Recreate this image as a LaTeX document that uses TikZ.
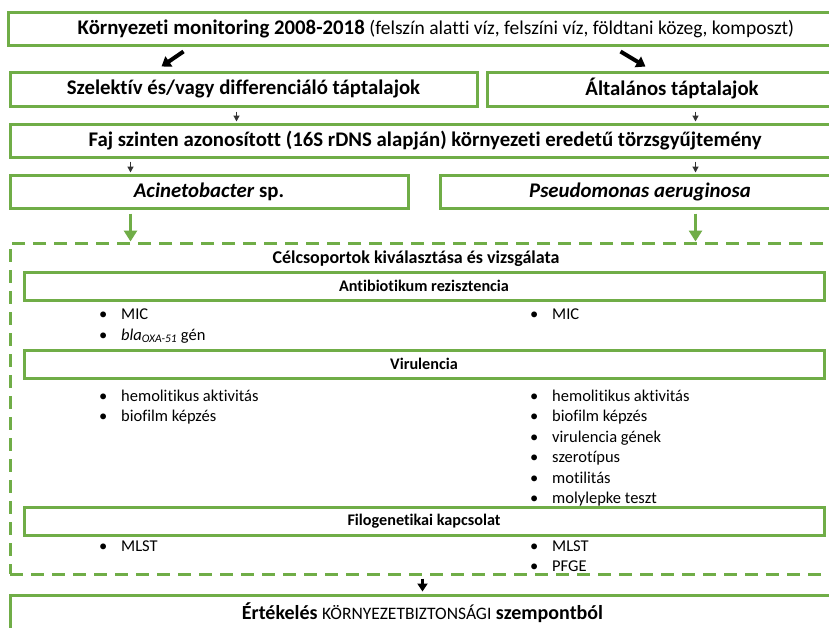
\documentclass[tikz,border=0pt]{standalone}
\usepackage{fontspec}
\setmainfont{Carlito}[Ligatures=CommonOff]
\usepackage{tikz}
\usetikzlibrary{arrows.meta,calc}
\definecolor{lgreen}{RGB}{112,173,71}
\newcommand{\blt}{\makebox[22pt][l]{\textbullet}}

\begin{document}
\begin{tikzpicture}[x=1pt, y=-1pt,
  box/.style={draw=lgreen, line width=3pt, inner sep=0pt, font=\fontsize{20.8}{24}\selectfont\bfseries},
  subbox/.style={draw=lgreen, line width=3pt, inner sep=0pt, minimum width=800pt, minimum height=28pt, font=\fontsize{16.2}{19}\selectfont\bfseries},
  item/.style={anchor=base west, inner sep=0pt, font=\fontsize{16.5}{19}\selectfont},
  bigarr/.style={line width=4pt, -{Triangle[width=12pt,length=9pt]}},
  sarr/.style={line width=1.3pt, black!80, -{Triangle[width=6pt,length=6pt]}},
  garr/.style={draw=lgreen, line width=3.5pt, -{Triangle[width=13pt,length=11pt]}}]
  \clip (0,0) rectangle (829,627);
  \fill[white] (0,0) rectangle (829,627);
  % monitoring
  \node[box, minimum width=856pt, minimum height=33pt] (mon) at (436,28.5)
    {Környezeti monitoring 2008-2018 {\fontsize{19.5}{22}\selectfont\mdseries(felszín alatti víz, felszíni víz, földtani közeg, komposzt)}};
  % culture media
  \node[box, minimum width=467pt, minimum height=34pt] (sel) at (243.5,89) {Szelektív és/vagy differenciáló táptalajok};
  \node[box, minimum width=386pt, minimum height=34pt] (alt) at (680,89) {\hspace{-16pt}Általános táptalajok};
  % strain collection
  \node[box, minimum width=830pt, minimum height=33pt] (faj) at (425,140.5)
    {Faj szinten azonosított (16S rDNS alapján) környezeti eredetű törzsgyűjtemény};
  % species
  \node[box, minimum width=398pt, minimum height=33pt] (aci) at (209,191.5) {\textit{Acinetobacter} sp.};
  \node[box, minimum width=400pt, minimum height=33pt] (pse) at (640,191.5) {\textit{Pseudomonas aeruginosa}};
  % target groups
  \node[draw=lgreen, line width=3pt, dash pattern=on 13pt off 8pt, minimum width=850pt, minimum height=331pt] (grp) at (435,408.5) {};
  \node[font=\fontsize{18}{21}\selectfont\bfseries] (cel) at (416,259) {Célcsoportok kiválasztása és vizsgálata};
  \node[subbox] (ab) at (424,286) {Antibiotikum rezisztencia};
  \node[subbox] (vir) at (424,364) {Virulencia};
  \node[subbox] (filo) at (424,521) {Filogenetikai kapcsolat};
  % evaluation
  \node[box, minimum width=825pt, minimum height=36pt, font=\fontsize{20}{23}\selectfont\bfseries] (eval) at (422.5,613)
    {Értékelés {\fontsize{17.5}{20}\selectfont\mdseries KÖRNYEZETBIZTONSÁGI} szempontból};

  % lists
  \node[item] (am1) at (99,319) {\blt MIC};
  \node[item] (am2) at (99,340) {\blt\textit{bla}\textsubscript{\textit{OXA-51}} gén};
  \node[item] (pm1) at (530,319) {\blt MIC};
  \node[item] (av1) at (99,401) {\blt hemolitikus aktivitás};
  \node[item] (av2) at (99,421.5) {\blt biofilm képzés};
  \foreach \t [count=\i] in {hemolitikus aktivitás, biofilm képzés, virulencia gének, szerotípus, motilitás, molylepke teszt}
    \node[item] (pv\i) at (530,401+20.5*\i-20.5) {\blt \t};
  \node[item] (af1) at (99,551) {\blt MLST};
  \node[item] (pf1) at (530,551) {\blt MLST};
  \node[item] (pf2) at (530,571.5) {\blt PFGE};

  % arrows
  \coordinate (d1) at ($(mon.south west)+(177,5)$);
  \coordinate (d2) at ($(sel.north west)+(153,-4)$);
  \draw[bigarr] (d1) -- (d2);
  \coordinate (d3) at ($(mon.south west)+(614,5)$);
  \coordinate (d4) at ($(alt.north west)+(160,-4)$);
  \draw[bigarr] (d3) -- (d4);
  \coordinate (s1) at ($(sel.south west)+(228,4)$);
  \draw[sarr] (s1) -- ($(s1 |- faj.north)+(0,-1)$);
  \coordinate (s2) at ($(alt.south west)+(210,4)$);
  \draw[sarr] (s2) -- ($(s2 |- faj.north)+(0,-1)$);
  \coordinate (s3) at ($(faj.south west)+(122,3)$);
  \draw[sarr] (s3) -- ($(s3 |- aci.north)+(0,-1)$);
  \coordinate (s4) at ($(faj.south west)+(687,3)$);
  \draw[sarr] (s4) -- ($(s4 |- pse.north)+(0,-1)$);
  \coordinate (g1) at ($(aci.south west)+(122,4)$);
  \draw[garr] (g1) -- (g1 |- grp.north);
  \coordinate (g2) at ($(pse.south west)+(257,4)$);
  \draw[garr] (g2) -- (g2 |- grp.north);
  \coordinate (e1) at ($(grp.south west)+(414,3)$);
  \draw[bigarr, line width=3.5pt, -{Triangle[width=10pt,length=8pt]}] (e1) -- ($(e1 |- eval.north)+(0,-2)$);
\end{tikzpicture}
\end{document}
